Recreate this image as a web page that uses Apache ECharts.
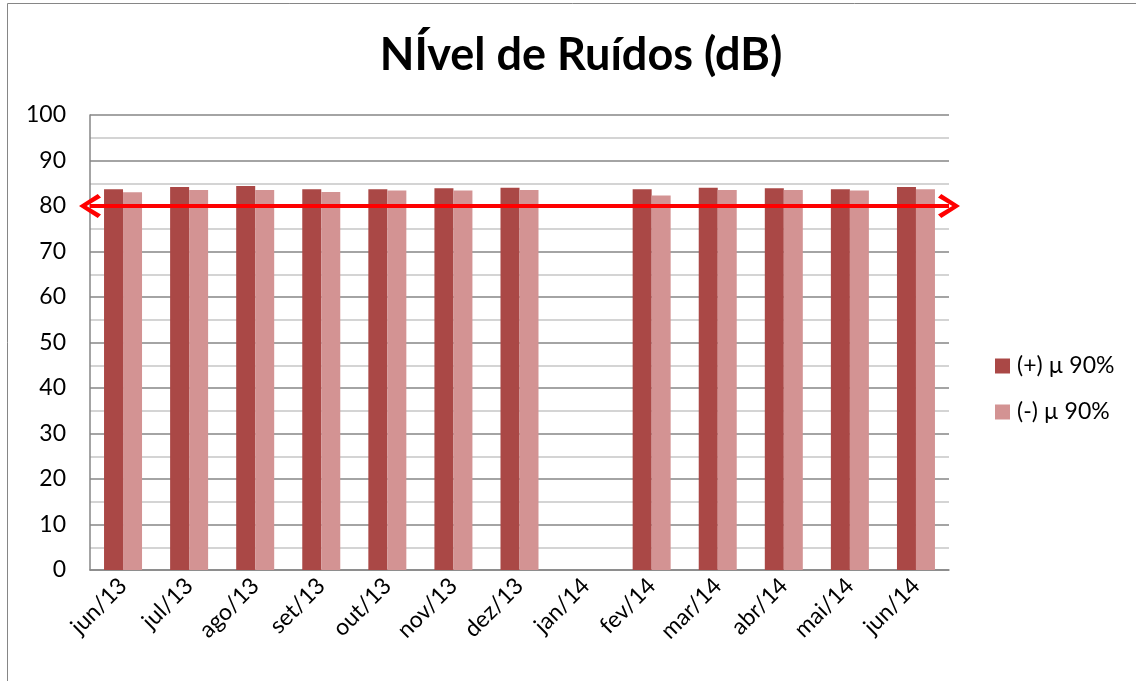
<!DOCTYPE html>
<html>
<head>
<meta charset="utf-8">
<script src="https://cdn.jsdelivr.net/npm/echarts@6/dist/echarts.min.js"></script>
<style>
html,body{margin:0;padding:0;background:#fff;}
#chart{width:1136px;height:681px;}
</style>
</head>
<body>
<div id="chart"></div>
<script>
const months=['jun/13','jul/13','ago/13','set/13','out/13','nov/13','dez/13','jan/14','fev/14','mar/14','abr/14','mai/14','jun/14'];
const plus90=[83.7,84.2,84.4,83.7,83.7,83.9,84.0,null,83.7,84.0,83.9,83.7,84.2];
const minus90=[83.0,83.5,83.5,83.1,83.4,83.4,83.5,null,82.3,83.5,83.5,83.4,83.7];
const limit=80;

const fontName='Lato';
const labelSize=23;
const gridDark='#868686';
const gridLight='#c6c6c6';
// chevron pointing up, markLine turns it along the line
const chevron='path://M10,0 L20,17 L17,20 L10,7 L3,20 L0,17 Z';

var myChart=echarts.init(document.getElementById('chart'));
var option={
    backgroundColor:'#fff',
    animation:false,
    textStyle:{fontFamily:fontName},
    title:{
        text:'NÍvel de Ruídos (dB)',
        left:576,
        textAlign:'center',
        top:28,
        textStyle:{fontSize:45,fontWeight:'bold',color:'#000',fontFamily:fontName}
    },
    graphic:[{
        type:'rect',
        shape:{x:7.5,y:3.5,width:1200,height:720},
        style:{fill:'none',stroke:gridDark,lineWidth:1},
        silent:true
    }],
    legend:{
        orient:'vertical',
        left:990,
        top:349,
        itemWidth:15,
        itemHeight:15,
        itemGap:22,
        icon:'rect',
        textStyle:{fontSize:labelSize,lineHeight:24,color:'#000',fontFamily:fontName,padding:[0,0,0,2]},
        data:['(+) µ 90%','(-) µ 90%']
    },
    grid:{left:90,right:187,top:115,bottom:111},
    xAxis:{
        type:'category',
        data:months,
        axisLine:{lineStyle:{color:gridDark,width:1.5}},
        axisTick:{show:false},
        axisLabel:{
            rotate:45,
            interval:0,
            fontSize:labelSize,
            color:'#000',
            margin:12
        }
    },
    yAxis:{
        type:'value',
        min:0,
        max:100,
        interval:10,
        axisLine:{show:true,lineStyle:{color:gridDark,width:1.5}},
        axisTick:{show:false},
        axisLabel:{fontSize:labelSize,color:'#000',margin:24},
        splitLine:{lineStyle:{color:gridDark,width:1.5}},
        minorTick:{show:false,splitNumber:2},
        minorSplitLine:{show:true,lineStyle:{color:gridLight,width:1.5}}
    },
    series:[{
        name:'(+) µ 90%',
        type:'bar',
        data:plus90,
        barWidth:19,
        barGap:'0%',
        itemStyle:{color:'#aa4846'},
        markLine:{
            silent:true,
            symbol:[chevron,chevron],
            symbolSize:[24,22],
            label:{show:false},
            lineStyle:{color:'#ff0000',width:4,type:'solid'},
            data:[{yAxis:limit}]
        }
    },{
        name:'(-) µ 90%',
        type:'bar',
        data:minus90,
        barWidth:19,
        itemStyle:{color:'#d39393'}
    }]
};
myChart.setOption(option);
</script>
</body>
</html>
